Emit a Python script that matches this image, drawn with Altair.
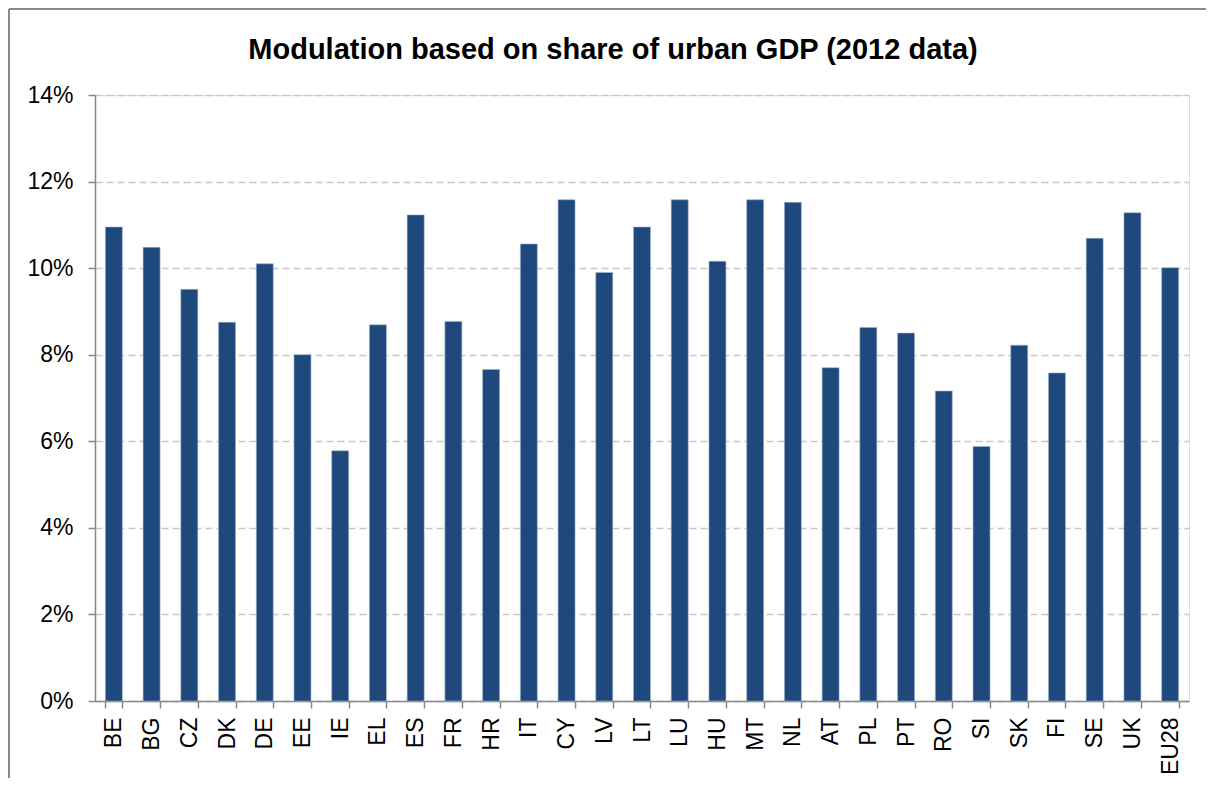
import altair as alt
import pandas as pd

countries = ["BE", "BG", "CZ", "DK", "DE", "EE", "IE", "EL", "ES", "FR", "HR", "IT", "CY", "LV",
             "LT", "LU", "HU", "MT", "NL", "AT", "PL", "PT", "RO", "SI", "SK", "FI", "SE", "UK", "EU28"]
values = [10.95, 10.48, 9.51, 8.75, 10.10, 8.00, 5.78, 8.69, 11.23, 8.77, 7.66, 10.56, 11.58, 9.90,
          10.95, 11.58, 10.16, 11.58, 11.52, 7.70, 8.63, 8.50, 7.16, 5.88, 8.22, 7.58, 10.69, 11.28, 10.01]
y_ticks = [0, 0.02, 0.04, 0.06, 0.08, 0.10, 0.12, 0.14]

df = pd.DataFrame({"country": countries, "value": [v / 100 for v in values]})

FONT = "Liberation Sans"
W, H = 1094, 606
PAD_L, PAD_T, PAD_R, PAD_B = 87, 87, 17, 77

bars = alt.Chart(df).mark_bar(color="#1F497D", stroke="#9fb3cc", strokeWidth=0.6).encode(
    x=alt.X("country:N", sort=countries, title=None,
            scale=alt.Scale(paddingInner=0.55, paddingOuter=0.275),
            axis=alt.Axis(labelAngle=270, labelAlign="right", labelBaseline="middle",
                          labelFont=FONT, labelFontSize=23, labelColor="#000000",
                          labelPadding=9, tickBand="extent", tickSize=7,
                          tickColor="#888888", domainColor="#888888", domainWidth=1.5,
                          tickWidth=1.5, grid=False)),
    y=alt.Y("value:Q", title=None,
            scale=alt.Scale(domain=[0, 0.14], nice=False),
            axis=alt.Axis(values=y_ticks, format=".0%", labelFont=FONT, labelFontSize=23,
                          labelColor="#000000", labelPadding=15, tickSize=7,
                          tickColor="#888888", domainColor="#888888", domainWidth=1.5,
                          tickWidth=1.5, grid=True, gridColor="#c8c8c8",
                          gridDash=[7, 4], gridWidth=1.3)),
)

frame_top = alt.Chart(df).mark_rule(color="#888888", strokeWidth=1.5).encode(
    x=alt.value(-PAD_L + 1), x2=alt.value(W + PAD_R), y=alt.value(-PAD_T + 1))
frame_left = alt.Chart(df).mark_rule(color="#888888", strokeWidth=1.5).encode(
    x=alt.value(-PAD_L + 1), y=alt.value(-PAD_T + 1), y2=alt.value(H + PAD_B))

chart = alt.layer(bars, frame_top, frame_left).properties(
    width=W, height=H,
    title=alt.Title("Modulation based on share of urban GDP (2012 data)",
                    font=FONT, fontSize=29, fontWeight="bold", color="#000000",
                    anchor="middle", offset=-57, dx=-29),
    autosize=alt.AutoSizeParams(type="none"),
    padding={"left": PAD_L, "top": PAD_T, "right": PAD_R, "bottom": PAD_B},
).configure_view(stroke=None).configure(background="#ffffff")

chart.save("out.html", embed_options={"renderer": "svg", "actions": False})
